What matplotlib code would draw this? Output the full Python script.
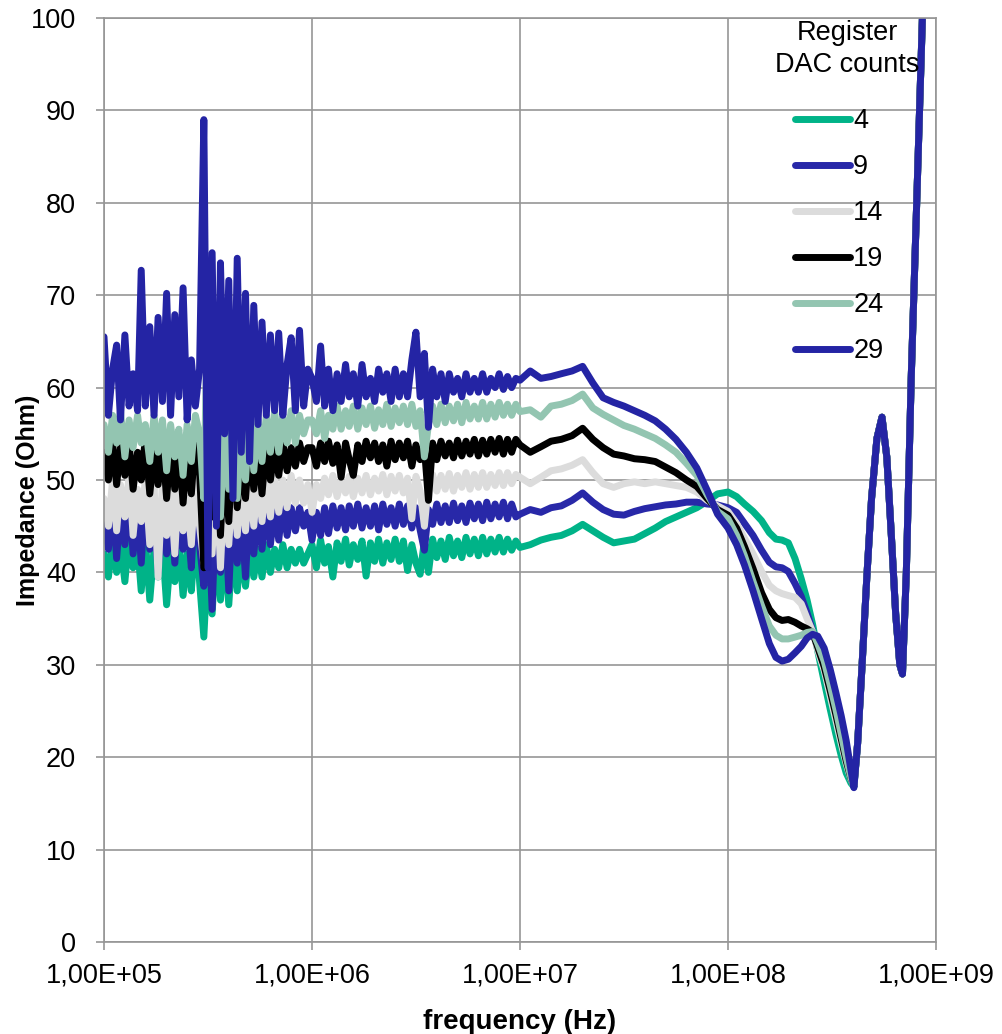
import numpy as np
import matplotlib
matplotlib.use('Agg')
import matplotlib.pyplot as plt
from matplotlib.ticker import FixedLocator, FuncFormatter, NullLocator

plt.rcParams['font.family'] = ['Liberation Sans', 'DejaVu Sans']

# sweep points (MHz), split by decade
freq_lf = [0.100, 0.105, 0.110, 0.115, 0.120, 0.126, 0.132, 0.138, 0.145, 0.151,
           0.158, 0.166, 0.174, 0.182, 0.191, 0.200, 0.209, 0.219, 0.229, 0.240,
           0.251, 0.263, 0.275, 0.288, 0.302, 0.316, 0.331, 0.347, 0.363, 0.380,
           0.398, 0.417, 0.437, 0.457, 0.479, 0.501, 0.525, 0.550, 0.575, 0.603,
           0.631, 0.661, 0.692, 0.724, 0.759, 0.794, 0.832, 0.871, 0.912, 0.955]
freq_mf = [1.00, 1.05, 1.10, 1.15, 1.20, 1.26, 1.32, 1.38, 1.45, 1.51,
           1.58, 1.66, 1.74, 1.82, 1.91, 2.00, 2.09, 2.19, 2.29, 2.40,
           2.51, 2.63, 2.75, 2.88, 3.02, 3.16, 3.31, 3.47, 3.63, 3.80,
           3.98, 4.17, 4.37, 4.57, 4.79, 5.01, 5.25, 5.50, 5.75, 6.03,
           6.31, 6.61, 6.92, 7.24, 7.59, 7.94, 8.32, 8.71, 9.12, 9.55]
freq_hf = [10.0, 11.2, 12.6, 14.1, 15.8, 17.8, 20.0, 22.4, 25.1, 28.2,
           31.6, 35.5, 39.8, 44.7, 50.1, 56.2, 63.1, 70.8, 79.4, 89.1]
freq_uhf = [100, 110, 120, 132, 145, 158, 170, 182, 195, 210,
            225, 240, 255, 270, 290, 310, 330, 350, 370, 390, 403]
freq_res = [420, 440, 465, 490, 520, 550, 580, 610, 640, 670,
            690, 720, 760, 800, 860, 900]

dac_counts = ['4', '9', '14', '19', '24', '29']
colors = ['#00B388', '#2828A8', '#DCDCDC', '#000000', '#93C5B1', '#2424A4']

# impedance (Ohm) per DAC setting
z4_lf = [42, 39.5, 43.5, 40, 43, 39, 44, 40.5, 43, 38, 43.5, 37, 42.5, 39.5, 43, 36.5,
         42, 39, 43.5, 37.5, 42, 38, 44.5, 39, 33, 42, 35.5, 44, 37, 43, 36.5, 43.5,
         38, 42.5, 38.5, 43, 39.5, 42.5, 39.5, 43, 40, 42.5, 40.5, 43, 40.5, 42.5, 41,
         42.5, 41, 42]
z4_mf = [43, 40.5, 43.5, 41, 42.8, 39.5, 43.2, 41.2, 43.6, 40.8, 43, 41.4, 43.4, 39.6,
         43.2, 41.2, 43.6, 41, 43.2, 41.4, 43.6, 41.2, 43.4, 40.2, 43, 41, 39.8, 43.4,
         40, 43.6, 41.6, 43.4, 41.4, 43.8, 41.8, 43.4, 41.6, 43.8, 42, 43.6, 41.8, 43.8,
         42, 43.6, 42.2, 43.8, 42.2, 43.6, 42.4, 43.4]
z4_hf = [42.7, 43, 43.5, 43.8, 44, 44.5, 45.2, 44.5, 43.8, 43.2,
         43.4, 43.6, 44.2, 44.8, 45.5, 46, 46.5, 47, 47.7, 48.5]
z4_uhf = [48.7, 48.2, 47.4, 46.6, 45.6, 44.3, 43.6, 43.5, 43.2, 41.5, 39.3,
          37, 34.4, 31.5, 28.2, 25.2, 22.5, 20.2, 18.3, 17.2, 16.8]

z9_lf = [46, 42.5, 48, 41.5, 47, 43, 48.5, 42, 47, 41, 48, 42.5, 46.5, 40, 47.5, 42,
         47, 41, 48, 42.5, 46, 40.5, 49, 43, 38.5, 47, 36, 48.5, 40, 47, 38, 48,
         41, 46.5, 39.5, 47.5, 42, 47, 42.5, 47.5, 43, 47, 43.5, 47.5, 44, 47, 44.5,
         47, 45, 46.5]
z9_mf = [43.5, 46.5, 44, 47, 44.2, 47.2, 44.8, 47, 44.6, 47.2, 45, 47.4, 44.8, 47,
         45, 47.2, 44.6, 47.4, 45.2, 47, 45, 47.4, 45.2, 47.2, 44.8, 47, 44.6, 42.4,
         46.8, 45.2, 47.4, 45.4, 47.2, 45.4, 47.5, 45.6, 47.2, 45.4, 47.5, 45.8, 47.4,
         45.6, 47.6, 45.8, 47.4, 46, 47.6, 45.8, 47.4, 46]
z9_hf = [46.3, 46.8, 46.5, 47, 47.2, 47.8, 48.6, 47.6, 46.8, 46.3,
         46.2, 46.6, 46.9, 47.1, 47.3, 47.4, 47.6, 47.6, 47.4, 47.3]
z9_uhf = [47, 46.5, 45.3, 44, 42.4, 41.1, 40.6, 40.5, 40.1, 38.8, 37.4,
          35.6, 33.7, 31.8, 29.6, 26.9, 24.4, 21.9, 19.8, 17.9, 17]

z14_lf = [48, 45, 50, 44.5, 49.5, 46, 50.5, 44, 49, 45.5, 50, 43, 49.5, 39.5, 50, 44,
          49, 42, 50.5, 44.5, 48, 43, 50, 45, 41, 49, 42, 51, 40.5, 50, 43, 50.5,
          44, 49.5, 44.5, 50, 45, 50.5, 45.5, 50, 46, 50.5, 46.5, 50, 47, 50.5, 47.5,
          50, 47.5, 49.5]
z14_mf = [46.5, 49.5, 48, 50.2, 48.4, 50.5, 48.2, 50, 48.6, 50.4, 48.2, 50.2, 48.6, 50.5,
          48.4, 50.2, 48.8, 50.6, 48.4, 50.4, 48.8, 50.5, 48.6, 50.2, 45.8, 50.4, 48.8,
          45, 49.5, 50.6, 48.8, 50.5, 49, 50.7, 48.8, 50.5, 49.2, 50.8, 49, 50.6, 49.2,
          50.8, 49.2, 50.6, 49.4, 50.8, 49.4, 50.8, 49.6, 50.6]
z14_hf = [50.3, 49.6, 50.3, 51, 51.2, 51.6, 52.2, 50.8, 49.6, 49.2,
          49.6, 49.8, 49.6, 49.8, 49.6, 49.4, 49.2, 48.7, 47.8, 47.2]
z14_uhf = [46.6, 45.3, 43.7, 42, 40.1, 38.6, 38, 37.7, 37.5, 37.3, 36.6,
           35, 33.6, 31.6, 29.4, 26.6, 24, 21.5, 19.3, 17.6, 16.9]

z19_lf = [53, 50, 54, 49.5, 53.5, 50.5, 54, 49, 53, 50, 54.5, 48.5, 53, 49.5, 54, 48,
          53.5, 49, 54, 47.5, 53, 48.5, 54.5, 51, 40.5, 53, 46, 54, 44, 53.5, 45.5, 54.5,
          47, 53, 48, 54, 49, 53.5, 48.5, 54, 50, 53.5, 50.5, 54, 51, 53.5, 51.5, 54,
          52, 53.5]
z19_mf = [53.5, 51.5, 54, 52, 54.2, 51.8, 53.8, 50.3, 54, 52.2, 50.5, 53.8, 52, 54.2,
          52.4, 54, 52, 53.8, 51.5, 54.2, 52.2, 54, 52.4, 54.2, 51.5, 53.8, 52.2, 53.5,
          47.8, 54, 52.2, 54.2, 52.6, 54, 52.4, 54.3, 52.6, 54.2, 52.8, 54.4, 52.6, 54.3,
          52.8, 54.4, 53, 54.5, 52.8, 54.4, 53, 54.4]
z19_hf = [53.8, 53, 53.6, 54.2, 54.4, 54.8, 55.6, 54.4, 53.5, 52.8,
          52.6, 52.3, 52.2, 52, 51.4, 50.8, 50, 49.3, 48, 46.8]
z19_uhf = [46.2, 44.8, 42.8, 40.4, 37.8, 36, 35.1, 34.8, 34.9, 34.6, 34.2,
           33.9, 33.5, 31.9, 29.8, 27.2, 24.6, 22, 19.6, 17.7, 16.9]

z24_lf = [56, 53, 57, 54, 57.5, 52.5, 56.5, 53.5, 57, 54, 56, 52, 57, 53, 56.5, 51,
          56, 52.5, 55.5, 50.5, 56, 52, 57, 55, 48, 71, 50, 58, 46, 57, 49, 57.5,
          48, 56, 50, 57, 51, 56.5, 52, 57, 53, 57.5, 53, 57, 54, 57.5, 54, 57,
          55, 56.5]
z24_mf = [56.5, 55, 57.5, 54.5, 57, 55.5, 58, 55.5, 57.5, 55.8, 58, 55.5, 57.8, 56,
          58, 55.6, 57.6, 56, 58.2, 55.8, 57.8, 56.2, 58, 56, 58.2, 55.8, 57.5, 52.5,
          56, 58, 56, 58.2, 56.2, 58, 56.4, 58.2, 56.2, 58.4, 56.6, 58, 56.6, 58.4,
          56.6, 58.2, 56.8, 58.4, 57, 58.2, 57, 58.2]
z24_hf = [57.4, 57.6, 56.8, 58, 58.2, 58.6, 59.3, 57.8, 57.1, 56.5,
          55.9, 55.5, 55, 54.5, 53.8, 53, 51.8, 50.5, 48.4, 46.6]
z24_uhf = [45.8, 44, 41.8, 39, 36.4, 34.2, 33.2, 32.8, 32.8, 33, 33.2,
           33.5, 33.6, 32.3, 30.4, 27.8, 25.2, 22.5, 20, 17.8, 16.8]

z29_lf = [65.5, 57, 62, 64.6, 56.5, 65.7, 58, 61.5, 57.5, 72.7, 58, 66.6, 57, 67.6, 58.5,
          70.2, 57, 67.9, 59, 70.8, 56.5, 63, 58, 62, 89, 40.5, 74.6, 45, 73.5, 55,
          71.6, 48, 74, 53, 70.2, 52, 68.9, 56, 67.1, 57, 65.7, 57.5, 65.9, 57, 62.5,
          65.4, 57.5, 66.2, 58, 62]
z29_mf = [61, 58.5, 64.5, 58, 62, 57.5, 61.5, 58.5, 62.5, 59, 61.5, 58, 62.5, 59, 61,
          58.5, 62, 59.5, 61.5, 58.5, 62, 59, 61.5, 59, 63, 66, 59, 63.7, 55.7, 62,
          59, 61.5, 58.5, 61.5, 59.5, 61, 59, 61.5, 59.5, 61, 59.5, 61.5, 59.5, 61,
          60, 61.5, 59.8, 61.2, 60, 61]
z29_hf = [60.8, 61.8, 61, 61.2, 61.5, 61.8, 62.3, 60.5, 58.9, 58.4,
          58, 57.5, 57, 56.4, 55.5, 54.4, 53, 51.3, 48.9, 46.3]
z29_uhf = [44.8, 43, 40.8, 38, 35, 32.3, 30.8, 30.4, 30.6, 31.3, 32,
           32.9, 33.3, 33.1, 31.8, 29.5, 27, 24.5, 21.8, 18.6, 16.7]

# above ~400 MHz all settings follow the same resonance
z_res = [21.5, 29.5, 39.5, 48, 54.5, 56.8, 52.5, 44, 35.5, 30,
         29, 40, 61, 77, 100, 114]


def main():
    freq_hz = np.array(freq_lf + freq_mf + freq_hf + freq_uhf + freq_res) * 1e6

    series = [
        z4_lf + z4_mf + z4_hf + z4_uhf + z_res,
        z9_lf + z9_mf + z9_hf + z9_uhf + z_res,
        z14_lf + z14_mf + z14_hf + z14_uhf + z_res,
        z19_lf + z19_mf + z19_hf + z19_uhf + z_res,
        z24_lf + z24_mf + z24_hf + z24_uhf + z_res,
        z29_lf + z29_mf + z29_hf + z29_uhf + z_res,
    ]

    fig = plt.figure(figsize=(10.02, 10.34), dpi=100)
    ax = fig.add_axes([104 / 1002, 92 / 1034, 832 / 1002, 924 / 1034])

    lw = 5.0
    for z, name, col in zip(series, dac_counts, colors):
        ax.plot(freq_hz, z, color=col, lw=lw, label=name,
                solid_joinstyle='round', solid_capstyle='round')

    ax.set_xscale('log')
    ax.set_xlim(1e5, 1e9)
    ax.set_ylim(0, 100)
    ax.xaxis.set_major_locator(FixedLocator([1e5, 1e6, 1e7, 1e8, 1e9]))
    ax.xaxis.set_minor_locator(NullLocator())
    ax.xaxis.set_major_formatter(FuncFormatter(lambda v, p: f'{v:.2E}'.replace('.', ',')))
    ax.yaxis.set_major_locator(FixedLocator(range(0, 101, 10)))

    grid_col = '#969696'
    ax.set_axisbelow(True)
    ax.grid(True, color=grid_col, lw=1.2)
    for sp in ax.spines.values():
        sp.set_color(grid_col)
        sp.set_linewidth(1.2)
    ax.tick_params(direction='out', length=6, width=1.2, color=grid_col, labelsize=19.5)
    ax.tick_params(axis='x', pad=9)
    ax.tick_params(axis='y', pad=14)

    ax.set_xlabel('frequency (Hz)', fontsize=20, fontweight='bold')
    ax.set_ylabel('Impedance (Ohm)', fontsize=18, fontweight='bold')
    ax.xaxis.set_label_coords(0.5, -0.072)
    ax.yaxis.set_label_coords(-0.077, 0.478)

    # legend title drawn separately so the gap to the entries can be set
    ax.text(0.893, 0.9665, 'Register\nDAC counts', transform=ax.transAxes,
            ha='center', va='center', fontsize=19.5, linespacing=1.3)
    leg = ax.legend(loc='upper left', bbox_to_anchor=(0.8305, 0.9025),
                    frameon=False, fontsize=19.5, handlelength=2.05,
                    handletextpad=0.1, labelspacing=0.74, borderpad=0,
                    borderaxespad=0)
    for line in leg.get_lines():
        line.set_linewidth(lw)
        line.set_solid_capstyle('round')

    fig.savefig('out.png', dpi=100)


if __name__ == '__main__':
    main()
